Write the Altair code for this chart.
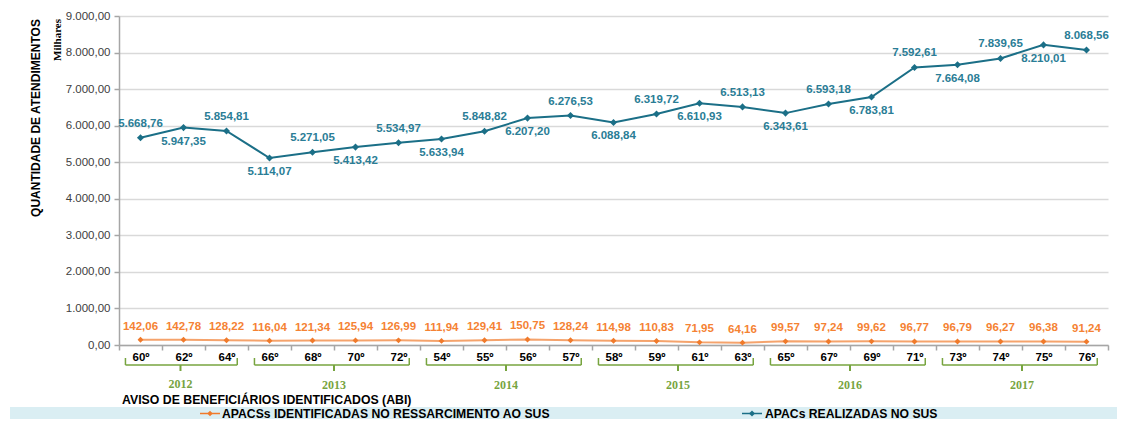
import altair as alt
import pandas as pd

categories = ["60º", "62º", "64º", "66º", "68º", "70º", "72º", "54º", "55º", "56º", "57º",
              "58º", "59º", "61º", "63º", "65º", "67º", "69º", "71º", "73º", "74º", "75º", "76º"]
years = ["2012"] * 3 + ["2013"] * 4 + ["2014"] * 4 + ["2015"] * 4 + ["2016"] * 4 + ["2017"] * 4
apacs_sus = [5668.76, 5947.35, 5854.81, 5114.07, 5271.05, 5413.42, 5534.97, 5633.94, 5848.82,
             6207.20, 6276.53, 6088.84, 6319.72, 6610.93, 6513.13, 6343.61, 6593.18, 6783.81,
             7592.61, 7664.08, 7839.65, 8210.01, 8068.56]
apacs_ress = [142.06, 142.78, 128.22, 116.04, 121.34, 125.94, 126.99, 111.94, 129.41, 150.75,
              128.24, 114.98, 110.83, 71.95, 64.16, 99.57, 97.24, 99.62, 96.77, 96.79, 96.27,
              96.38, 91.24]
y_ticks = [0, 1000, 2000, 3000, 4000, 5000, 6000, 7000, 8000, 9000]
series_names = ["APACSs IDENTIFICADAS NO RESSARCIMENTO AO SUS", "APACs REALIZADAS NO SUS"]
y_title = "QUANTIDADE DE ATENDIMENTOS"
y_unit = "Milhares"
x_title = "AVISO DE BENEFICIÁRIOS IDENTIFICADOS (ABI)"


def br(v):
    return f"{v:,.2f}".replace(",", "X").replace(".", ",").replace("X", ".")


df = pd.DataFrame({
    "cat": categories,
    "year": years,
    "sus": apacs_sus,
    "ress": apacs_ress,
    "sus_lbl": [br(v) for v in apacs_sus],
    "ress_lbl": [br(v) for v in apacs_ress],
    "idx": list(range(len(categories))),
})
df["parity"] = df["idx"] % 2

groups = []
for y in dict.fromkeys(years):
    cats = [c for c, yy in zip(categories, years) if yy == y]
    odd = len(cats) % 2 == 1
    mid = cats[len(cats) // 2]
    groups.append({"year": y, "cat": cats[0], "last": cats[-1], "mid": mid, "odd": odd})
gdf = pd.DataFrame(groups)

BLUE = "#1b6f87"
BLUE_T = "#2a7d96"
ORANGE_L = "#f5a36c"
ORANGE_P = "#f07a2b"
ORANGE_T = "#f58233"
GREEN = "#77a43f"
GRAY = "#a6a6a6"
FONT = "Liberation Sans"
SERIF = "Liberation Serif"

xscale = alt.Scale(type="band", domain=categories, paddingInner=0, paddingOuter=0)
yscale = alt.Scale(domain=[0, 9000], nice=False, zero=True)

x_axis = alt.Axis(title=None, labelAngle=0, labelFont=FONT, labelFontWeight="bold",
                  labelFontSize=11.5, labelColor="#000000", tickBand="extent",
                  tickSize=5, tickColor=GRAY, tickWidth=1.5, domainColor=GRAY,
                  domainWidth=1.5, labelPadding=1, grid=False)

y_axis = alt.Axis(title=None, values=y_ticks, tickCount=10, labelOverlap=False,
                  labelExpr="replace(replace(replace(format(datum.value, ',.2f'), ',', 'X'), '.', ','), 'X', '.')",
                  labelFont=FONT, labelFontSize=11.5, labelColor="#404040",
                  grid=True, gridColor="#d9d9d9", gridWidth=1.5,
                  domainColor=GRAY, domainWidth=1.5, tickColor=GRAY, tickSize=5,
                  tickWidth=1.5, labelPadding=4)


def X(field="cat:N", **kw):
    return alt.X(field, scale=xscale, sort=categories, axis=x_axis, **kw)


def Y(field):
    return alt.Y(field, scale=yscale, axis=y_axis)


base = alt.Chart(df)

sus_line = base.mark_line(color=BLUE, strokeWidth=2).encode(x=X(), y=Y("sus:Q"))
sus_pts = base.mark_point(shape="diamond", filled=True, color=BLUE, size=50, opacity=1).encode(
    x=X(), y=Y("sus:Q"))
sus_lbl_up = base.transform_filter("datum.parity == 0").mark_text(
    font=FONT, fontSize=11.5, fontWeight="bold", color=BLUE_T, dy=-14).encode(
    x=X(), y=Y("sus:Q"), text="sus_lbl:N")
sus_lbl_dn = base.transform_filter("datum.parity == 1").mark_text(
    font=FONT, fontSize=11.5, fontWeight="bold", color=BLUE_T, dy=14).encode(
    x=X(), y=Y("sus:Q"), text="sus_lbl:N")

ress_line = base.mark_line(color=ORANGE_L, strokeWidth=2).encode(x=X(), y=Y("ress:Q"))
ress_pts = base.mark_point(shape="diamond", filled=True, color=ORANGE_P, size=35, opacity=1).encode(
    x=X(), y=Y("ress:Q"))
ress_lbl = base.mark_text(font=FONT, fontSize=11.5, fontWeight="bold", color=ORANGE_T, dy=-13).encode(
    x=X(), y=Y("ress:Q"), text="ress_lbl:N")

gbase = alt.Chart(gdf)
START_BP = 0.15
END_BP = 0.75
br_h = gbase.mark_rule(color=GREEN, strokeWidth=1.5).encode(
    x=X("cat:N", bandPosition=START_BP), x2=alt.X2("last:N", bandPosition=END_BP),
    y=alt.value(349))
br_l = gbase.mark_rule(color=GREEN, strokeWidth=1.5).encode(
    x=X("cat:N", bandPosition=START_BP), y=alt.value(342), y2=alt.value(349))
br_r = gbase.mark_rule(color=GREEN, strokeWidth=1.5).encode(
    x=X("last:N", bandPosition=END_BP), y=alt.value(342), y2=alt.value(349))
br_c_odd = gbase.transform_filter("datum.odd").mark_rule(color=GREEN, strokeWidth=2).encode(
    x=X("mid:N", bandPosition=0.43), y=alt.value(349), y2=alt.value(355))
br_c_even = gbase.transform_filter("!datum.odd").mark_rule(color=GREEN, strokeWidth=2).encode(
    x=X("mid:N", bandPosition=0.0), y=alt.value(349), y2=alt.value(355))
yr_odd = gbase.transform_filter("datum.odd").mark_text(
    font=SERIF, fontSize=12, fontWeight="bold", color=GREEN).encode(
    x=X("mid:N", bandPosition=0.43), y=alt.value(368), text="year:N")
yr_even = gbase.transform_filter("!datum.odd").mark_text(
    font=SERIF, fontSize=12, fontWeight="bold", color=GREEN).encode(
    x=X("mid:N", bandPosition=0.0), y=alt.value(369), text="year:N")


def one(val):
    return alt.Chart(alt.Data(values=[{"t": val}]))


ytitle = one(y_title).mark_text(font=FONT, fontSize=12, fontWeight="bold", color="#000000",
                                angle=270).encode(x=alt.value(-83), y=alt.value(102), text="t:N")
yunit = one(y_unit).mark_text(font=SERIF, fontSize=11, fontWeight="bold", color="#000000",
                              angle=270).encode(x=alt.value(-61), y=alt.value(24), text="t:N")
xtitle = one(x_title).mark_text(font=FONT, fontSize=12.3, fontWeight="bold", color="#000000",
                                align="left").encode(x=alt.value(3), y=alt.value(384), text="t:N")

leg_bg = one("").mark_rect(color="#daeef3").encode(
    x=alt.value(-109), x2=alt.value(998), y=alt.value(391), y2=alt.value(403))
leg_y = 397.5
leg1_line = one("").mark_rule(color=ORANGE_P, strokeWidth=1.5).encode(
    x=alt.value(81), x2=alt.value(101), y=alt.value(leg_y))
leg1_pt = one("").mark_point(shape="diamond", filled=True, color=ORANGE_P, size=30, opacity=1).encode(
    x=alt.value(91), y=alt.value(leg_y))
leg1_txt = one(series_names[0]).mark_text(font=FONT, fontSize=12.2, fontWeight="bold", color="#000000",
                                          align="left").encode(x=alt.value(103), y=alt.value(leg_y), text="t:N")
leg2_line = one("").mark_rule(color=BLUE, strokeWidth=1.5).encode(
    x=alt.value(623), x2=alt.value(643), y=alt.value(leg_y))
leg2_pt = one("").mark_point(shape="diamond", filled=True, color=BLUE, size=35, opacity=1).encode(
    x=alt.value(633), y=alt.value(leg_y))
leg2_txt = one(series_names[1]).mark_text(font=FONT, fontSize=12.2, fontWeight="bold", color="#000000",
                                          align="left").encode(x=alt.value(646), y=alt.value(leg_y), text="t:N")

chart = alt.layer(
    sus_line, sus_pts, sus_lbl_up, sus_lbl_dn,
    ress_line, ress_pts, ress_lbl,
    br_h, br_l, br_r, br_c_odd, br_c_even, yr_odd, yr_even,
    ytitle, yunit, xtitle,
    leg_bg, leg1_line, leg1_pt, leg1_txt, leg2_line, leg2_pt, leg2_txt,
).properties(
    width=989, height=329,
    autosize=alt.AutoSizeParams(type="none"),
    padding={"left": 111, "top": 8, "right": 9, "bottom": 74},
    background="#ffffff",
).configure_view(stroke=None)

chart.save("out.html", embed_options={"renderer": "svg", "actions": False})
